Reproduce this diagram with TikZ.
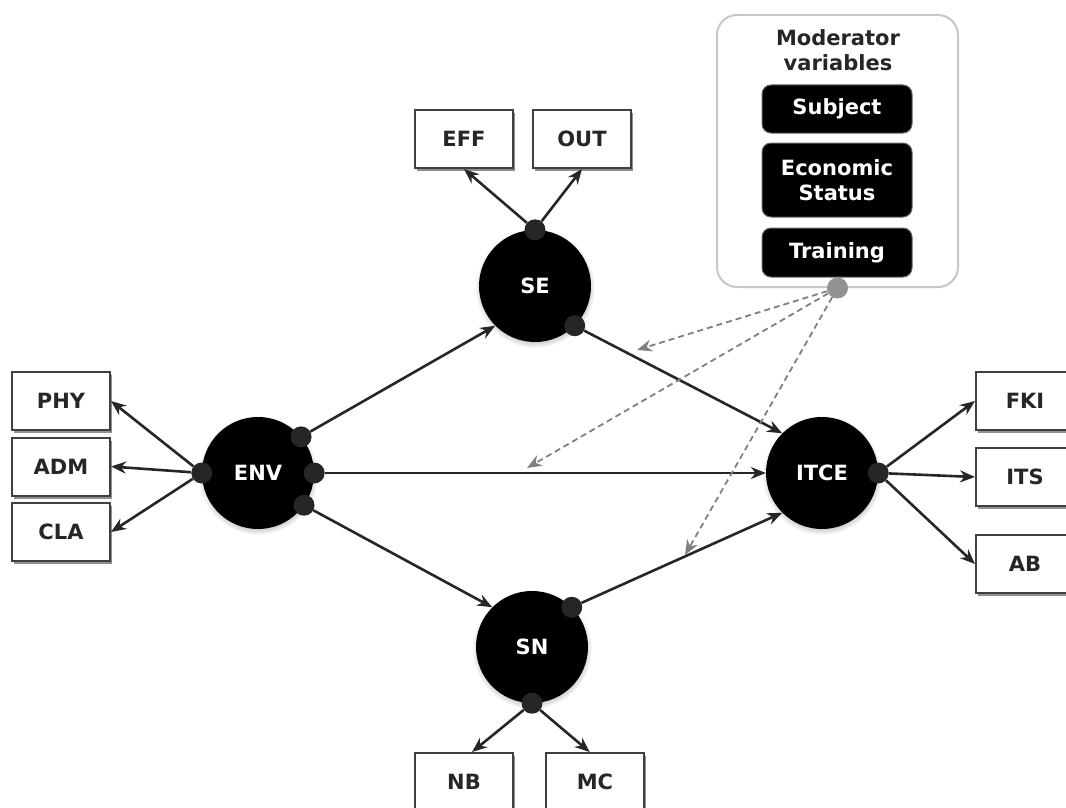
\documentclass[tikz,border=0pt]{standalone}
\usepackage{fontspec}
\setmainfont{DejaVu Sans}
\usetikzlibrary{arrows.meta,shadows}
\begin{document}
\begin{tikzpicture}[x=1pt,y=-1pt,
  font=\bfseries\fontsize{21}{25}\selectfont,
  varbox/.style={draw=black!75, line width=2pt, fill=white, text=black!85,
    minimum width=98pt, minimum height=58pt,
    drop shadow={shadow xshift=1.5pt, shadow yshift=-3pt, fill=black!55, opacity=0.8}},
  latent/.style={circle, fill=black, text=white, minimum size=112pt, inner sep=0pt,
    circular drop shadow={shadow xshift=0pt, shadow yshift=-2pt, shadow scale=1.07, opacity=0.5}},
  port/.style={circle, fill=black!85, minimum size=21pt, inner sep=0pt},
  link/.style={line width=2.6pt, black!85, -{Stealth[length=15pt,width=12pt]}},
  modlink/.style={gray, line width=1.8pt, dash pattern=on 6pt off 4pt,
    -{Stealth[length=15pt,width=12pt]}},
  modbox/.style={rounded corners=9pt, fill=black, text=white, minimum width=150pt,
    draw=black!60, line width=1pt, align=center}
]
\useasboundingbox (0,0) rectangle (1066,808);

% latent constructs
\node[latent] (SE)   at (535,286) {SE};
\node[latent] (ENV)  at (258,473) {ENV};
\node[latent] (ITCE) at (822,473) {ITCE};
\node[latent] (SN)   at (532,647) {SN};

% indicator boxes
\node[varbox] (EFF) at (464,139) {EFF};
\node[varbox] (OUT) at (582,139) {OUT};
\node[varbox] (PHY) at (61,401) {PHY};
\node[varbox] (ADM) at (61,466.5) {ADM};
\node[varbox] (CLA) at (61,532) {CLA};
\node[varbox] (FKI) at (1025,401) {FKI};
\node[varbox] (ITS) at (1025,477) {ITS};
\node[varbox] (AB)  at (1025,564) {AB};
\node[varbox] (NB)  at (464,782) {NB};
\node[varbox] (MC)  at (595,782) {MC};

% moderator panel
\node[draw=black!22, line width=2pt, rounded corners=20pt, minimum width=241pt,
      minimum height=272pt, fill=white] (MOD) at (837.5,151) {};
\node[align=center, text=black!85] (MODT) at (838,50) {Moderator\\variables};
\node[modbox, minimum height=48pt] (SUB) at (837,109) {Subject};
\node[modbox, minimum height=74pt] (ECO) at (837,180) {Economic\\Status};
\node[modbox, minimum height=49pt] (TRA) at (837,252.5) {Training};

% connection ports
\node[port, fill=gray!85] (MD) at (MOD.south) {};
\node[port] (SEt)   at (SE.north) {};
\node[port] (SEr)   at (SE.-45) {};
\node[port] (ENVl)  at (ENV.west) {};
\node[port] (ENVa)  at (ENV.40) {};
\node[port] (ENVr)  at (ENV.east) {};
\node[port] (ENVb)  at (ENV.-35) {};
\node[port] (ITCEr) at (ITCE.east) {};
\node[port] (SNa)   at (SN.45) {};
\node[port] (SNb)   at (SN.south) {};

% structural paths
\draw[link] (ENVa) -- (SE.225);
\draw[link] (SEr) -- (ITCE.135);
\draw[link, line width=1.6pt] (ENVr) -- (ITCE.west);
\draw[link] (ENVb) -- (SN.135);
\draw[link] (SNa) -- (ITCE.225);

% measurement paths
\draw[link] (SEt) -- (EFF.south);
\draw[link] (SEt) -- (OUT.south);
\draw[link] (ENVl) -- (PHY.east);
\draw[link] (ENVl) -- (ADM.east);
\draw[link] (ENVl) -- (CLA.east);
\draw[link] (ITCEr) -- (FKI.west);
\draw[link] (ITCEr) -- (ITS.west);
\draw[link] (ITCEr) -- (AB.west);
\draw[link] (SNb) -- (NB.75);
\draw[link] (SNb) -- (MC.100);

% moderating effects
\coordinate (d1) at (637,350);
\coordinate (d2) at (527,468);
\coordinate (d3) at (685,555);
\draw[modlink] (MD) -- (d1);
\draw[modlink] (MD) -- (d2);
\draw[modlink] (MD) -- (d3);
\end{tikzpicture}
\end{document}
